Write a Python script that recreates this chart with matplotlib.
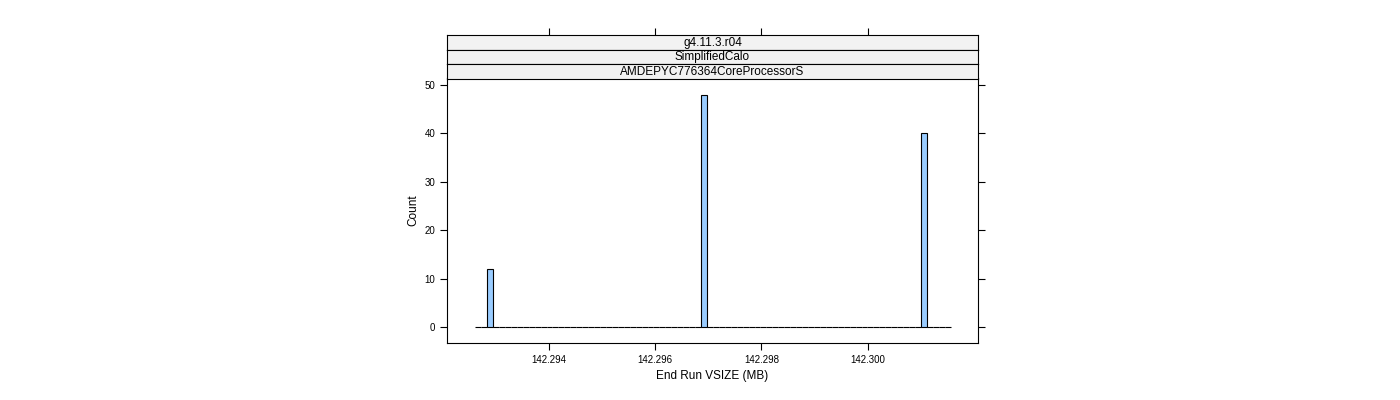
import matplotlib
matplotlib.use("Agg")
import matplotlib.pyplot as plt
import numpy as np

strip_labels = ["g4.11.3.r04", "SimplifiedCalo", "AMDEPYC776364CoreProcessorS"]
bar_values = [142.29294, 142.29694, 142.30105]
bar_counts = [12, 48, 40]
xticks = [142.294, 142.296, 142.298, 142.300]
yticks = [0, 10, 20, 30, 40, 50]

data = np.repeat(bar_values, bar_counts)
edges = np.linspace(142.29262, 142.30156, 81)

fig = plt.figure(figsize=(14, 4), dpi=100)
plt.rcParams['font.family'] = ['Liberation Sans', 'DejaVu Sans']
W, H = 1400, 400
l, r, t, b = 447, 978, 78, 343
ax = fig.add_axes([l/W, 1-b/H, (r-l)/W, (b-t)/H])
ax.hist(data, bins=edges, color="#99ccff", edgecolor="black", linewidth=0.8)
ax.set_xlim(142.29209, 142.302074)
ax.set_ylim(-3.3, 51.45)
ax.set_xticks(xticks)
ax.set_xticklabels([f"{v:.3f}" for v in xticks])
ax.set_yticks(yticks)
ax.tick_params(direction="out", length=5, labelsize=7, right=True, width=0.8)
ax.set_xlabel("End Run VSIZE (MB)", fontsize=8.5)
ax.set_ylabel("Count", fontsize=8.5)
for s in ax.spines.values():
    s.set_linewidth(0.8)

sh = 14.5
for i, lab in enumerate(strip_labels):
    top = 35 + i*sh
    sa = fig.add_axes([l/W, 1-(top+sh)/H, (r-l)/W, sh/H])
    sa.set_facecolor("#f2f2f2")
    sa.set_xlim(ax.get_xlim())
    sa.set_yticks([])
    if i == 0:
        sa.set_xticks(xticks)
        sa.tick_params(axis="x", bottom=False, top=True, labeltop=False,
                       labelbottom=False, direction="out", length=5, width=0.8)
    else:
        sa.set_xticks([])
    for s in sa.spines.values():
        s.set_linewidth(0.8)
    sa.text(0.5, 0.45, lab, ha="center", va="center", fontsize=8.5,
            transform=sa.transAxes)

fig.savefig("out.png", dpi=100, facecolor="white")
